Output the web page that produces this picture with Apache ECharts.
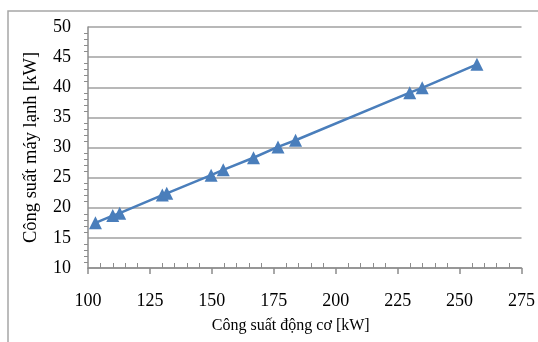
<!DOCTYPE html>
<html>
<head>
<meta charset="utf-8">
<script src="https://cdn.jsdelivr.net/npm/echarts@6/dist/echarts.min.js"></script>
<style>
  html, body { margin: 0; padding: 0; background: #fff; }
  #chart { width: 538px; height: 342px; }
</style>
</head>
<body>
<div id="chart"></div>
<script>
// engine power [kW] vs air-conditioner power [kW]
const enginePower = [103, 110, 112.8, 130, 131.8, 149.7, 154.6, 166.8, 176.7, 183.8, 229.9, 234.9, 257]
const acPower = [17.5, 18.7, 19.1, 22.1, 22.4, 25.4, 26.3, 28.3, 30.1, 31.2, 39.1, 39.9, 43.8]

const xTitle = 'Công suất động cơ [kW]'
const yTitle = 'Công suất máy lạnh [kW]'

const chart = echarts.init(document.getElementById('chart'))

const FONT = '"Liberation Serif", "DejaVu Serif", serif'
const axisGray = '#8c8c8c'

chart.setOption({
    animation: false,
    textStyle: { fontFamily: FONT },
    graphic: [
        {
            type: 'polyline',
            shape: { points: [[8, 342], [8, 11], [538, 11]] },
            style: { stroke: '#a6a6a6', lineWidth: 1.5, fill: null },
            silent: true
        }
    ],
    grid: { left: 88, top: 27, right: 14, bottom: 74 },
    xAxis: {
        type: 'value',
        min: 100,
        max: 275,
        interval: 25,
        name: xTitle,
        nameLocation: 'middle',
        nameGap: 50,
        nameTextStyle: { fontSize: 16, color: '#000', fontFamily: FONT, padding: [0, 28, 0, 0] },
        axisLine: { lineStyle: { color: axisGray, width: 1.5 } },
        axisTick: { show: true, length: 6, inside: false, lineStyle: { color: axisGray, width: 1.5 } },
        minorTick: { show: true, splitNumber: 5, length: -5, lineStyle: { color: axisGray, width: 1 } },
        axisLabel: { fontSize: 18, color: '#000', margin: 24, fontFamily: FONT },
        splitLine: { show: false }
    },
    yAxis: {
        type: 'value',
        min: 10,
        max: 50,
        interval: 5,
        name: yTitle,
        nameLocation: 'middle',
        nameGap: 47,
        nameRotate: 90,
        nameTextStyle: { fontSize: 18.5, color: '#000', fontFamily: FONT },
        axisLine: { show: true, lineStyle: { color: axisGray, width: 1.5 } },
        axisTick: { show: false },
        minorTick: { show: true, splitNumber: 5, length: 4, lineStyle: { color: axisGray, width: 1 } },
        axisLabel: { fontSize: 18, color: '#000', margin: 17, fontFamily: FONT },
        splitLine: { show: true, lineStyle: { color: '#a0a0a0', width: 1.5 } }
    },
    series: [
        {
            type: 'line',
            data: enginePower.map((x, i) => [x, acPower[i]]),
            symbol: 'triangle',
            symbolSize: 13,
            showAllSymbol: true,
            lineStyle: { color: '#4a7ebb', width: 2.5 },
            itemStyle: { color: '#4a7ebb' }
        }
    ]
})
</script>
</body>
</html>
